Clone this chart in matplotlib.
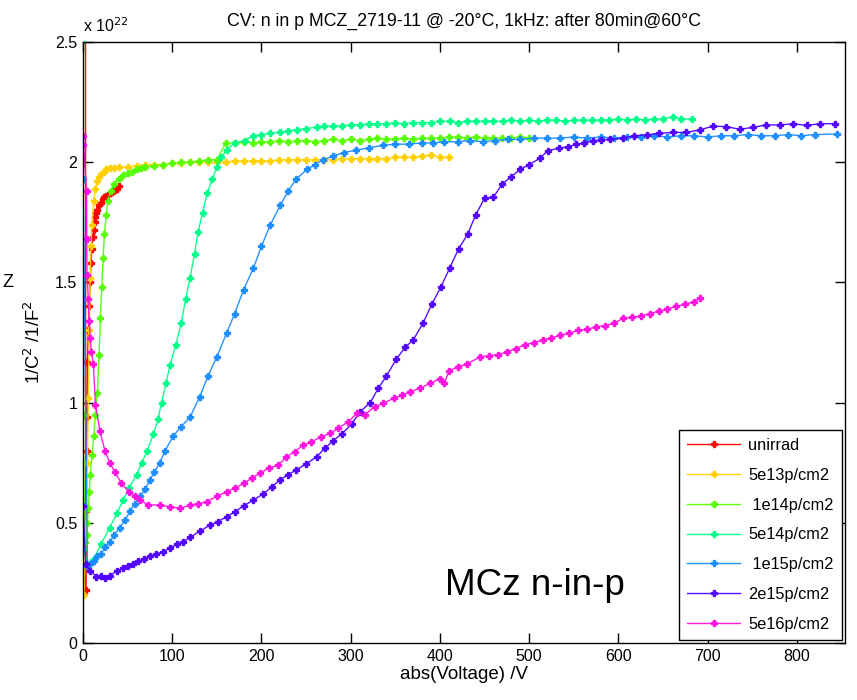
import matplotlib
matplotlib.use("Agg")
import matplotlib.pyplot as plt

plt.rcParams['font.family'] = ['Liberation Sans', 'DejaVu Sans']

labels = ["unirrad", "5e13p/cm2", " 1e14p/cm2", "5e14p/cm2", " 1e15p/cm2", "2e15p/cm2", "5e16p/cm2"]
colors = ["#FF0000", "#FFD000", "#55FF00", "#00FF88", "#1A8CFF", "#5000FF", "#FF10E0"]

# values in units of 1e22 F^-2
v_unirrad = [1.5, 3, 3.5, 4, 4.5, 5, 6, 7, 8, 9, 10, 11, 12, 13, 14, 15, 16, 18, 20, 22, 24, 26, 28, 30, 32, 34, 36, 38, 40]
y_unirrad = [25, 0.22, 0.55, 0.80, 0.94, 1.17, 1.30, 1.40, 1.50, 1.58, 1.64, 1.69, 1.72, 1.75, 1.77, 1.79, 1.80,
             1.82, 1.83, 1.845, 1.855, 1.86, 1.865, 1.87, 1.875, 1.88, 1.885, 1.89, 1.90]

v_5e13 = [1, 3, 5, 6, 7, 8, 9, 10, 12, 14, 16, 18, 20, 23, 26, 30, 35, 40, 50, 60, 70, 80, 90, 100,
          110, 120, 130, 140, 150, 160, 170, 180, 190, 200, 210, 220, 230, 240, 250, 260, 270, 280,
          290, 300, 310, 320, 330, 340, 350, 360, 370, 380, 390, 400, 410]
y_5e13 = [0.20, 0.45, 0.75, 1.02, 1.30, 1.52, 1.65, 1.74, 1.84, 1.89, 1.92, 1.94, 1.95, 1.96, 1.97, 1.975,
          1.975, 1.98, 1.98, 1.985, 1.99, 1.99, 1.99, 1.995, 1.995, 2.00, 2.00, 2.00, 2.00, 2.00, 2.005,
          2.005, 2.005, 2.005, 2.005, 2.01, 2.01, 2.01, 2.01, 2.01, 2.01, 2.01, 2.015, 2.015, 2.015,
          2.015, 2.015, 2.015, 2.02, 2.02, 2.02, 2.025, 2.03, 2.02, 2.02]

v_1e14 = [0, 2, 4, 5, 6, 7, 8, 10, 12, 14, 16, 18, 19.5, 21, 22.5, 24, 26, 28, 31, 35, 40, 45, 50, 55,
          60, 65, 70, 80, 90, 100, 110, 120, 130, 140, 150, 160, 170, 180, 190, 200, 210, 220, 230,
          240, 250, 260, 270, 280, 290, 300, 310, 320, 330, 340, 350, 360, 370, 380, 390, 400, 410,
          420, 430, 440, 450, 460, 470, 480, 490, 500]
y_1e14 = [0.95, 0.42, 0.45, 0.50, 0.56, 0.63, 0.70, 0.78, 0.86, 0.95, 1.04, 1.20, 1.35, 1.48, 1.60,
          1.70, 1.78, 1.84, 1.88, 1.91, 1.93, 1.945, 1.955, 1.96, 1.97, 1.975, 1.98, 1.985, 1.99,
          1.995, 2.00, 2.00, 2.005, 2.01, 2.01, 2.08, 2.08, 2.085, 2.08, 2.085, 2.085, 2.09, 2.085,
          2.09, 2.09, 2.085, 2.09, 2.095, 2.09, 2.095, 2.09, 2.095, 2.10, 2.095, 2.095, 2.10, 2.095,
          2.10, 2.10, 2.10, 2.105, 2.105, 2.10, 2.105, 2.10, 2.10, 2.10, 2.10, 2.105, 2.10]

v_5e14 = [1, 5, 11.6, 20, 30, 38, 45, 52, 60, 66, 72, 79, 84, 88, 93, 97.5, 104, 110, 115, 120, 125,
          129, 134, 139, 145, 150, 155, 161, 170, 181, 190, 200, 210, 221, 230, 240, 250, 262, 270,
          280, 290, 300, 310, 320, 330, 340, 350, 360, 370, 380, 390, 400, 411, 420, 430, 440, 450,
          460, 471, 480, 490, 500, 510, 520, 530, 540, 550, 560, 570, 580, 590, 600, 610, 620, 630,
          640, 650, 661, 670, 682]
y_5e14 = [0.39, 0.33, 0.345, 0.41, 0.48, 0.54, 0.595, 0.645, 0.70, 0.75, 0.80, 0.87, 0.93, 1.00, 1.08,
          1.156, 1.24, 1.33, 1.43, 1.52, 1.62, 1.71, 1.79, 1.87, 1.93, 1.98, 2.02, 2.05, 2.08, 2.09,
          2.11, 2.115, 2.12, 2.125, 2.13, 2.135, 2.14, 2.146, 2.15, 2.15, 2.152, 2.155, 2.155, 2.16,
          2.16, 2.16, 2.165, 2.16, 2.165, 2.165, 2.165, 2.17, 2.17, 2.165, 2.17, 2.17, 2.17, 2.17,
          2.17, 2.175, 2.17, 2.175, 2.17, 2.175, 2.175, 2.17, 2.175, 2.175, 2.175, 2.175, 2.175,
          2.18, 2.175, 2.18, 2.175, 2.18, 2.18, 2.19, 2.18, 2.18]

v_1e15 = [0, 5, 8, 12, 16, 20, 25, 30, 35, 41, 47, 53, 58, 64, 70, 75, 80, 86, 92, 101, 110, 120, 131,
          140, 150, 161, 170, 180, 191, 200, 210, 221, 230, 239, 251, 260, 269, 280, 292, 306, 320,
          336, 350, 365, 380, 392, 405, 420, 434, 448, 462, 476, 490, 505, 520, 535, 550, 565, 580,
          595, 610, 625, 640, 655, 670, 685, 700, 715, 730, 745, 760, 775, 790, 805, 820, 845]
y_1e15 = [1.93, 0.32, 0.33, 0.34, 0.36, 0.37, 0.40, 0.42, 0.45, 0.48, 0.51, 0.55, 0.58, 0.61, 0.64,
          0.68, 0.71, 0.75, 0.80, 0.86, 0.90, 0.94, 1.025, 1.11, 1.19, 1.29, 1.37, 1.47, 1.56, 1.65,
          1.74, 1.82, 1.88, 1.93, 1.97, 1.99, 2.01, 2.025, 2.04, 2.05, 2.06, 2.07, 2.075, 2.075, 2.08,
          2.08, 2.085, 2.085, 2.09, 2.085, 2.09, 2.095, 2.095, 2.10, 2.10, 2.10, 2.105, 2.10, 2.105,
          2.10, 2.105, 2.105, 2.11, 2.105, 2.11, 2.11, 2.105, 2.11, 2.11, 2.115, 2.11, 2.11, 2.115,
          2.11, 2.115, 2.117]

v_2e15 = [0, 3, 8, 15, 20, 25, 30, 38, 45, 50, 56, 62, 68, 75, 82, 90, 97.5, 105, 112, 120, 131, 142,
          151, 161, 170, 180, 191, 202, 212, 221, 230, 239, 250, 262, 271, 280, 290, 301, 310, 322,
          331, 340, 351, 361, 370, 381, 391, 401, 411, 421, 431, 440, 450, 460, 470, 480, 490, 500,
          512, 521, 533, 544, 553, 562, 572, 581, 591, 605, 617, 632, 646, 661, 676, 691, 706, 721,
          736, 751, 766, 781, 796, 811, 826, 843]
y_2e15 = [0.57, 0.33, 0.30, 0.276, 0.28, 0.27, 0.28, 0.30, 0.31, 0.32, 0.33, 0.34, 0.35, 0.36, 0.37,
          0.38, 0.395, 0.41, 0.42, 0.44, 0.465, 0.49, 0.505, 0.525, 0.545, 0.57, 0.595, 0.62, 0.65,
          0.68, 0.70, 0.72, 0.745, 0.775, 0.81, 0.84, 0.87, 0.91, 0.96, 1.00, 1.06, 1.11, 1.18, 1.23,
          1.26, 1.33, 1.41, 1.48, 1.56, 1.64, 1.70, 1.78, 1.85, 1.855, 1.91, 1.94, 1.97, 1.99, 2.016,
          2.048, 2.058, 2.065, 2.074, 2.08, 2.09, 2.092, 2.095, 2.10, 2.11, 2.114, 2.12, 2.124, 2.124,
          2.134, 2.15, 2.148, 2.137, 2.145, 2.155, 2.155, 2.16, 2.153, 2.16, 2.16]

v_5e16 = [0, 0.5, 4, 4.2, 4.5, 6, 7, 8, 9.5, 11.6, 14, 19, 24.6, 30, 36, 43, 51, 58, 64, 73, 86, 97.5,
          109, 120, 129, 138.6, 150, 161, 170, 180, 189, 198, 208, 219, 228, 237.5, 247, 256, 267,
          277, 286, 297, 307, 316, 327, 336.5, 348, 357, 366, 378, 389, 400, 405, 410, 420, 430, 445,
          455, 465, 475, 485, 495, 505, 515, 525, 535, 545, 555, 565, 575, 585, 595, 605, 615, 625,
          635, 645, 655, 665, 675, 685, 691]
y_5e16 = [2.11, 2.07, 1.88, 1.68, 1.53, 1.43, 1.34, 1.27, 1.21, 1.16, 0.99, 0.88, 0.80, 0.75, 0.71,
          0.665, 0.63, 0.61, 0.595, 0.574, 0.574, 0.567, 0.56, 0.574, 0.58, 0.588, 0.61, 0.63, 0.643,
          0.664, 0.685, 0.706, 0.727, 0.74, 0.775, 0.796, 0.824, 0.837, 0.858, 0.872, 0.893, 0.92,
          0.955, 0.95, 0.983, 0.997, 1.018, 1.03, 1.045, 1.06, 1.08, 1.10, 1.08, 1.13, 1.15, 1.16,
          1.19, 1.195, 1.20, 1.21, 1.225, 1.24, 1.25, 1.26, 1.27, 1.28, 1.29, 1.30, 1.305, 1.315,
          1.32, 1.33, 1.35, 1.355, 1.36, 1.37, 1.38, 1.39, 1.40, 1.41, 1.42, 1.435]

series = [(v_unirrad, y_unirrad), (v_5e13, y_5e13), (v_1e14, y_1e14), (v_5e14, y_5e14),
          (v_1e15, y_1e15), (v_2e15, y_2e15), (v_5e16, y_5e16)]

x_ticks = [0, 100, 200, 300, 400, 500, 600, 700, 800]
y_ticks = [0, 0.5, 1, 1.5, 2, 2.5]
y_ticklabels = ["0", "0.5", "1", "1.5", "2", "2.5"]

fig = plt.figure(figsize=(8.57, 7.0), dpi=100)
ax = fig.add_axes([83/857, 1 - 643/700, (845 - 83)/857, (643 - 42)/700])

for (v, y), lab, c in zip(series, labels, colors):
    ax.plot(v, y, color=c, lw=1.0, marker='P', ms=4.5, mec=c, mfc=c, label=lab, alpha=0.95)

ax.set_xlim(0, 854)
ax.set_ylim(0, 2.5)
ax.set_xticks(x_ticks)
ax.set_yticks(y_ticks)
ax.set_yticklabels(y_ticklabels)
ax.tick_params(direction='in', top=True, right=True, length=7, width=1, labelsize=11.5, pad=4)
for s in ax.spines.values():
    s.set_linewidth(1.0)

ax.set_title("CV: n in p MCZ_2719-11 @ -20\u00b0C, 1kHz: after 80min@60\u00b0C", fontsize=12.8, pad=12)
ax.set_xlabel("abs(Voltage) /V", fontsize=13.5, labelpad=2)
ax.set_ylabel("1/C$^2$ /1/F$^2$", fontsize=13.3, labelpad=8)
ax.text(0.0, 1.012, "x 10$^{22}$", transform=ax.transAxes, fontsize=11.5, ha='left', va='bottom')
fig.text(0.003, 0.597, "Z", fontsize=13, ha='left', va='center')
ax.text(406, 0.24, "MCz n-in-p", fontsize=26.5, ha='left', va='center')

leg = ax.legend(loc='lower right', fontsize=11.8, frameon=True, fancybox=False, framealpha=1,
                edgecolor='black', borderaxespad=0.2, handlelength=3.2, labelspacing=0.9,
                borderpad=0.5, handletextpad=0.5)
leg.get_frame().set_linewidth(1.0)

fig.savefig("out.png", dpi=100)
